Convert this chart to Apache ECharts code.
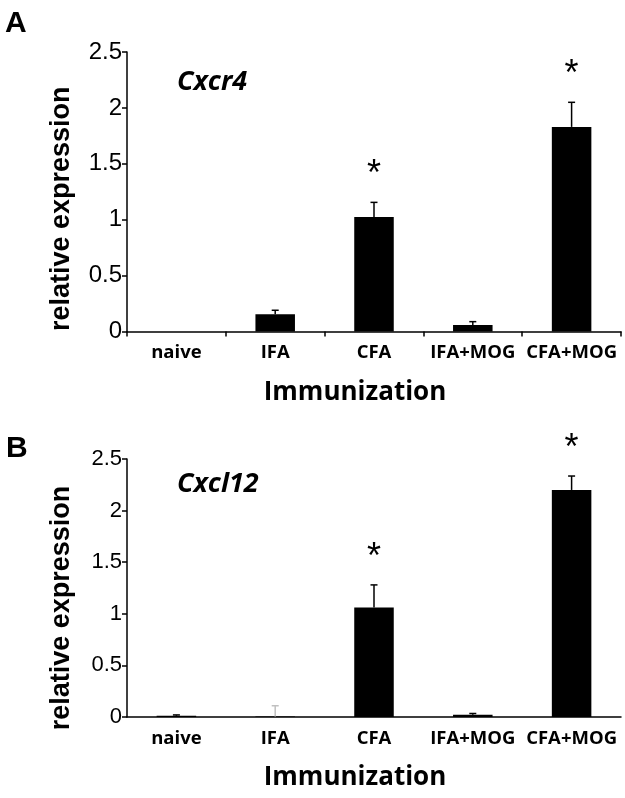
<!DOCTYPE html>
<html>
<head>
<meta charset="utf-8">
<script src="https://cdn.jsdelivr.net/npm/echarts@6/dist/echarts.min.js"></script>
<style>html,body{margin:0;padding:0;background:#fff}#c{width:625px;height:798px}</style>
</head>
<body>
<div id="c"></div>
<script>
const categories = ['naive', 'IFA', 'CFA', 'IFA+MOG', 'CFA+MOG'];
const yTicks = [0, 0.5, 1, 1.5, 2, 2.5];
// Panel A: Cxcr4
const cxcr4Mean = [0, 0.155, 1.025, 0.058, 1.83];
const cxcr4Err  = [0, 0.035, 0.13, 0.03, 0.22];
const cxcr4Star = [false, false, true, false, true];
// Panel B: Cxcl12
const cxcl12Mean = [0.012, 0.004, 1.06, 0.022, 2.2];
const cxcl12Err  = [0.008, 0.105, 0.22, 0.012, 0.135];
const cxcl12Star = [false, false, true, false, true];

const chart = echarts.init(document.getElementById('c'));

function errItem(params, api) {
  const x = api.value(0), v = api.value(1), e = api.value(2);
  if (!e) return null;
  const p0 = api.coord([x, v]);
  const p1 = api.coord([x, v + e]);
  const col = api.value(3) ? '#c0c0c0' : '#000';
  return {
    type: 'group',
    children: [
      {type: 'line', shape: {x1: p0[0], y1: p0[1], x2: p1[0], y2: p1[1]}, style: {stroke: col, lineWidth: 1.5}},
      {type: 'line', shape: {x1: p1[0] - 3.5, y1: p1[1], x2: p1[0] + 3.5, y2: p1[1]}, style: {stroke: col, lineWidth: 1.5}}
    ]
  };
}
function starItem(params, api) {
  const x = api.value(0), v = api.value(1), e = api.value(2);
  const p1 = api.coord([x, v + e]);
  return {
    type: 'text',
    style: {text: '*', x: p1[0], y: p1[1] - 27, align: 'center', verticalAlign: 'middle',
            font: '36px "Liberation Sans", Arial, sans-serif', fill: '#000'}
  };
}

function errData(mean, err, grayIdx) {
  return categories.map((c, i) => [i, mean[i], err[i], grayIdx === i ? 1 : 0]);
}
function starData(mean, err, stars) {
  return categories.map((c, i) => [i, mean[i], err[i]]).filter((d, i) => stars[i]);
}

function xAxis(gridIndex, showTicks, nameGap) {
  return {
    type: 'category', gridIndex, data: categories,
    axisLine: {lineStyle: {color: '#000', width: 1.5}},
    axisTick: {show: showTicks, interval: 0, length: 5, lineStyle: {color: '#000', width: 1.5}},
    axisLabel: {interval: 0, color: '#000', fontFamily: '"Open Sans", sans-serif', fontWeight: 'bold', fontSize: 18.5, margin: 12},
    name: 'Immunization', nameLocation: 'middle', nameGap,
    nameTextStyle: {color: '#000', fontFamily: '"Open Sans", sans-serif', fontWeight: 'bold', fontSize: 26, padding: [0, 38, 0, 0]}
  };
}
function yAxis(gridIndex, fontSize, pad) {
  return {
    type: 'value', gridIndex, min: 0, max: 2.5, interval: 0.5,
    axisLine: {show: true, lineStyle: {color: '#000', width: 1.5}},
    axisTick: {show: true, length: 5, lineStyle: {color: '#000', width: 1.5}},
    splitLine: {show: false},
    axisLabel: {color: '#000', fontFamily: '"Liberation Sans", Arial, sans-serif', fontSize, margin: 5,
                formatter: v => String(v)},
    name: 'relative expression', nameLocation: 'middle', nameGap: 52,
    nameTextStyle: {color: '#000', fontFamily: '"Liberation Sans", Arial, sans-serif', fontWeight: 'bold', fontSize: 27, padding: [0, pad, 0, 0]}
  };
}

chart.setOption({
  animation: false,
  grid: [
    {left: 127, right: 4, top: 52, height: 279.5},
    {left: 127, right: 4, top: 459, height: 258}
  ],
  xAxis: [xAxis(0, true, 48), xAxis(1, false, 48)],
  yAxis: [yAxis(0, 24, 34), yAxis(1, 22, 40)],
  title: [
    {text: 'A', left: 0, top: 4, textStyle: {fontFamily: '"Liberation Sans", Arial, sans-serif', fontWeight: 'bold', fontSize: 30, color: '#000'}},
    {text: 'Cxcr4', left: 172, top: 64, textStyle: {fontFamily: '"Open Sans", sans-serif', fontWeight: 'bold', fontStyle: 'italic', fontSize: 27, color: '#000'}},
    {text: 'B', left: 1, top: 429, textStyle: {fontFamily: '"Liberation Sans", Arial, sans-serif', fontWeight: 'bold', fontSize: 30, color: '#000'}},
    {text: 'Cxcl12', left: 172, top: 466, textStyle: {fontFamily: '"Open Sans", sans-serif', fontWeight: 'bold', fontStyle: 'italic', fontSize: 27, color: '#000'}}
  ],
  series: [
    {type: 'bar', xAxisIndex: 0, yAxisIndex: 0, data: cxcr4Mean, barWidth: '40%', itemStyle: {color: '#000'}},
    {type: 'custom', xAxisIndex: 0, yAxisIndex: 0, renderItem: errItem, data: errData(cxcr4Mean, cxcr4Err, -1), z: 3},
    {type: 'custom', xAxisIndex: 0, yAxisIndex: 0, renderItem: starItem, data: starData(cxcr4Mean, cxcr4Err, cxcr4Star), z: 3},
    {type: 'bar', xAxisIndex: 1, yAxisIndex: 1, data: cxcl12Mean, barWidth: '40%', itemStyle: {color: '#000'}},
    {type: 'custom', xAxisIndex: 1, yAxisIndex: 1, renderItem: errItem, data: errData(cxcl12Mean, cxcl12Err, 1), z: 3},
    {type: 'custom', xAxisIndex: 1, yAxisIndex: 1, renderItem: starItem, data: starData(cxcl12Mean, cxcl12Err, cxcl12Star), z: 3}
  ]
});
</script>
</body>
</html>
